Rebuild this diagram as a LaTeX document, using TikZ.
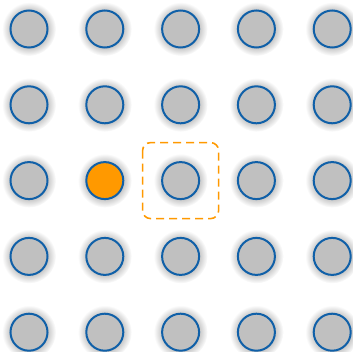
\documentclass[tikz,border=0pt]{standalone}
\usetikzlibrary{shadings}
\definecolor{ballgray}{RGB}{192,192,192}
\definecolor{ballblue}{RGB}{16,96,168}
\definecolor{ballorange}{RGB}{255,153,0}
\pgfdeclareradialshading{halo}{\pgfpoint{0bp}{0bp}}{color(0bp)=(black!25); color(16.5bp)=(black!25); color(18bp)=(black!20); color(25bp)=(white); color(50bp)=(white)}
\tikzset{
  ball/.style={circle, draw=ballblue, line width=2pt, fill=ballgray, minimum size=37pt, inner sep=0pt},
  hot/.style={fill=ballorange},
  pick/.style={draw=ballorange, dashed, dash pattern=on 8pt off 5pt, line width=1.6pt, rounded corners=8pt}
}
\begin{document}
\begin{tikzpicture}[x=1pt,y=-1pt]
\useasboundingbox (0,0) rectangle (352,352);
\foreach \i in {0,...,4}{
  \foreach \j in {0,...,4}{
    \pgfmathsetmacro{\cx}{29+75.8*\i}
    \pgfmathsetmacro{\cy}{29+75.8*\j}
    \shade[shading=halo] (\cx,\cy) circle (27);
  }
}
\foreach \i in {0,...,4}{
  \foreach \j in {0,...,4}{
    \pgfmathsetmacro{\cx}{29+75.8*\i}
    \pgfmathsetmacro{\cy}{29+75.8*\j}
    \ifnum\i=1 \ifnum\j=2
      \node[ball,hot] (b\i\j) at (\cx,\cy) {};
    \else
      \node[ball] (b\i\j) at (\cx,\cy) {};
    \fi\else
      \node[ball] (b\i\j) at (\cx,\cy) {};
    \fi
  }
}
\draw[pick] ([shift={(-38,-38)}]b22.center) rectangle ([shift={(38,38)}]b22.center);
\end{tikzpicture}
\end{document}
